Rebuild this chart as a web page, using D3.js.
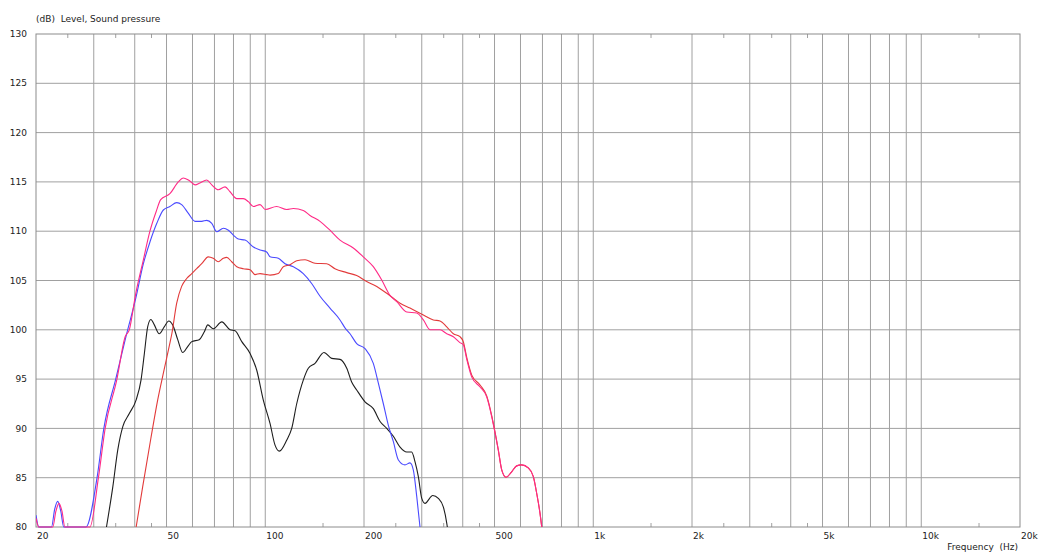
<!DOCTYPE html>
<html><head><meta charset="utf-8">
<script src="https://cdn.jsdelivr.net/npm/d3@7"></script>
<style>
html,body{margin:0;padding:0;background:#fff;}
svg{display:block;}
text{font-family:"DejaVu Sans",Verdana,sans-serif;font-size:9px;fill:#222;}
</style></head>
<body>
<svg id="chart" width="1039" height="552"></svg>
<script>
// ---- Data ----
const majorFreqs = [30,40,50,60,70,80,90,100,200,300,400,500,600,700,800,900,1000,2000,3000,4000,5000,6000,7000,8000,9000,10000];
const minorTickFreqs = [25,35,45,150,250,350,450,1500,2500,3500,4500,15000];
const xTickValues = [20,50,100,200,500,1000,2000,5000,10000,20000];
const xTickLabels = ["20","50","100","200","500","1k","2k","5k","10k","20k"];
const yTickValues = [80,85,90,95,100,105,110,115,120,125,130];

const pinkFreq = [20,20.4,22.5,23.0,23.5,24.0,24.5,29.2,31.0,32.5,35.3,37.4,38.5,40.3,42.5,44.5,46.5,48,51.2,54.3,56.2,58.3,61.1,63.2,66.3,68.7,71.9,75.4,78.1,81.9,85.7,88.8,92,96.4,100,108.3,116.2,121.8,130.6,136.9,146.9,157.5,169,185.5,199,213.5,226.5,240,251.7,270,289.6,303.4,318,341,357.5,374.5,392,401.5,411.4,426.2,451.7,473.3,490.2,500,513.5,525.9,542,564,584,605,633.5,656.6,672.4,688,696.5];
const pinkDb   = [80.9,80,80,81.6,82.4,81.6,80,80,85,90,95,99.3,100,103.7,107.1,110,112,113.2,113.8,115.0,115.4,115.2,114.7,114.9,115.2,114.7,114.2,114.5,114.0,113.3,113.3,113.0,112.5,112.7,112.2,112.5,112.2,112.3,112.1,111.6,111.0,110.1,109.1,108.3,107.4,106.4,105.05,103.5,102.85,101.8,101.7,101.0,100.0,100.0,99.6,99.3,98.7,98.5,97.0,95.2,94.2,93.2,91.2,89.8,87.8,85.8,85.05,85.6,86.2,86.3,86.0,85.1,83.4,81.4,80];

const blueFreq = [20,20.4,22.3,22.8,23.3,23.8,24.3,28.4,30.7,32.2,35.0,37.8,40.3,42.5,44.5,46.7,48.9,51.2,53.7,55.6,58.3,61.1,64.0,66.3,68.7,71.1,74.5,77.2,79.9,82.8,86.8,92.0,96.4,101,103.4,109.6,114.9,121.8,130.6,138.5,146.9,157.5,169,175,181.3,190,201.4,213.5,221.2,229.1,237.3,245.8,254.6,266.7,276.2,282.7,289.6,296.3];
const blueDb   = [81.2,80,80,81.8,82.6,81.6,80,80,85,90,95,99.6,103.2,106.7,108.9,110.8,112.15,112.5,112.9,112.7,111.8,111.0,111.0,111.1,110.8,109.95,110.3,110.1,109.6,109.2,109.1,108.4,108.1,107.9,107.4,107.25,106.7,106.4,105.7,104.7,103.4,102.2,101.0,100.2,99.6,98.6,98.1,96.6,94.6,92.5,90.3,88.65,86.8,86.3,86.5,85.8,83.1,80];

const redFreq = [40.4,42.3,44.8,47.0,49.2,51.0,51.9,53.7,55.6,57.6,59.7,61.8,64.0,67.0,69.4,71.9,74.5,76.3,79.0,81.9,85.7,89.9,93.1,96.4,101,103.4,109.6,113.5,119,124.7,132.2,141.8,153.9,163.1,177.2,190,203.8,218.7,234.6,245.8,257.6,276.2,303.4,325.4,341,357.5,374.5,392.3,401.5,411.4,426.2,451.7,473.3,490.2,500,513.5,525.9,542,564,584,605,633.5,656.6,672.4,688,696.5];
const redDb   = [80,84.1,89.0,92.9,96.0,98.4,99.6,102.7,104.4,105.2,105.7,106.2,106.7,107.4,107.25,106.9,107.25,107.35,106.9,106.4,106.2,106.1,105.6,105.7,105.6,105.55,105.7,106.4,106.6,107.0,107.1,106.75,106.7,106.2,105.8,105.5,104.9,104.4,103.7,103.2,102.7,102.2,101.5,101.0,100.9,100.3,99.6,99.3,98.8,97.2,95.4,94.4,93.3,91.3,89.9,87.8,85.8,85.05,85.6,86.2,86.3,86.0,85.1,83.4,81.4,80];

const blackFreq = [32.8,34.3,35.5,36.8,38.5,40.4,41.8,42.8,43.8,44.8,45.9,47.5,49.2,50.8,52.2,54.1,56.0,58.0,59.7,62.9,65.2,66.8,69.4,73.7,78.1,80.9,84.8,89.9,94.2,98.6,103.4,107.1,110.4,116.2,120.4,124.7,130.6,135.3,141.8,151,159.4,169,177.2,183.4,190,201.4,213.5,223.9,234.6,245.8,257.6,270,279.5,286.2,292.9,300,306.9,324.1,337,349,357.5,359];
const blackDb   = [80,84.1,87.8,90.2,91.5,92.9,94.9,97.6,100.3,101.05,100.5,99.6,100.3,100.9,100.5,99.0,97.7,98.3,98.8,99.0,99.8,100.5,100.1,100.8,100,99.9,98.8,97.6,95.9,92.9,90.5,88.3,87.7,88.8,90.0,92.5,94.9,96.1,96.6,97.7,97.1,97.0,96.1,94.7,93.9,92.7,92.0,90.7,90.0,89.2,88.1,87.6,87.6,86.6,85.1,82.9,82.4,83.2,82.9,82.05,80.4,80];

const seriesColors = {black:"#1e1e1e", blue:"#4a4aff", red:"#e23a3a", pink:"#ff2a86"};

// ---- Chart ----
const svg = d3.select("#chart");
const L = 36, R = 1020, T = 34, B = 527;
const x = d3.scaleLog().domain([20,20000]).range([L,R]);
const y = d3.scaleLinear().domain([80,130]).range([B,T]);

svg.append("rect").attr("x",0).attr("y",0).attr("width",1039).attr("height",552).attr("fill","#fff");

// grid
svg.append("g").selectAll("line").data(yTickValues.slice(1,-1)).join("line")
  .attr("x1",L).attr("x2",R).attr("y1",d=>y(d)).attr("y2",d=>y(d))
  .attr("stroke","#a0a0a0").attr("stroke-width",1);
svg.append("g").selectAll("line").data(majorFreqs).join("line")
  .attr("x1",d=>x(d)).attr("x2",d=>x(d)).attr("y1",T).attr("y2",B)
  .attr("stroke","#a0a0a0").attr("stroke-width",1);

// minor ticks
const mt = svg.append("g");
mt.selectAll("line.b").data(minorTickFreqs).join("line").attr("class","b")
  .attr("x1",d=>x(d)).attr("x2",d=>x(d)).attr("y1",B-4).attr("y2",B)
  .attr("stroke","#a0a0a0");
mt.selectAll("line.t").data(minorTickFreqs).join("line").attr("class","t")
  .attr("x1",d=>x(d)).attr("x2",d=>x(d)).attr("y1",T).attr("y2",T+4)
  .attr("stroke","#a0a0a0");

// frame
svg.append("rect").attr("x",L).attr("y",T).attr("width",R-L).attr("height",B-T)
  .attr("fill","none").attr("stroke","#8c8c8c").attr("stroke-width",1);

// axes labels
svg.append("g").selectAll("text").data(yTickValues).join("text")
  .attr("x",27).attr("y",d=>y(d)).attr("dy","0.35em").attr("text-anchor","end").text(d=>d);
svg.append("g").selectAll("text").data(xTickValues).join("text")
  .attr("x",(d)=>x(d)+1).attr("y",538.5).attr("text-anchor","start").text((d,i)=>xTickLabels[i]);
svg.append("text").attr("x",L).attr("y",21.5).attr("xml:space","preserve").text("(dB)  Level, Sound pressure");
svg.append("text").attr("x",1018).attr("y",550).attr("text-anchor","end").attr("xml:space","preserve").text("Frequency  (Hz)");

// curves
svg.append("clipPath").attr("id","plot").append("rect").attr("x",L).attr("y",T).attr("width",R-L).attr("height",B-T+1);
const line = d3.line().x(d=>x(d[0])).y(d=>y(Math.max(80,d[1]))).curve(d3.curveMonotoneX);
const zip = (f,v)=>f.map((d,i)=>[d,v[i]]);
const series = [
  {data:zip(blackFreq,blackDb), color:seriesColors.black},
  {data:zip(blueFreq,blueDb), color:seriesColors.blue},
  {data:zip(redFreq,redDb), color:seriesColors.red},
  {data:zip(pinkFreq,pinkDb), color:seriesColors.pink}
];
const cg = svg.append("g").attr("clip-path","url(#plot)");
cg.selectAll("path").data(series).join("path")
  .attr("d",d=>line(d.data)).attr("fill","none").attr("stroke",d=>d.color).attr("stroke-width",1.1);
</script>
</body></html>
